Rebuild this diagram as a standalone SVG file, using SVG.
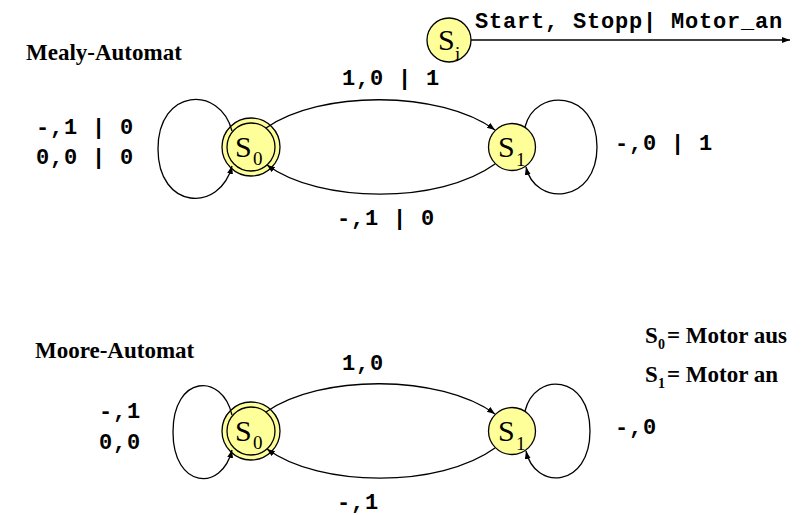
<svg xmlns="http://www.w3.org/2000/svg" width="807" height="515" viewBox="0 0 807 515">
<style>
.st{fill:#FFFF99;stroke:#000;stroke-width:1.3}
.ring{fill:none;stroke:#000;stroke-width:1.3}
.sl{font-family:"Liberation Serif","Times New Roman",serif;fill:#000}
.mono{font-family:"Liberation Mono","Courier New",monospace;font-weight:bold;font-size:22px;letter-spacing:0.8px;fill:#000}
.title{font-family:"Liberation Serif","Times New Roman",serif;font-weight:bold;font-size:23px;fill:#000}
.c{fill:none;stroke:#000;stroke-width:1.3;marker-end:url(#ah)}
</style>
<defs>
<marker id="ah" markerUnits="userSpaceOnUse" markerWidth="9" markerHeight="7" refX="8" refY="3" orient="auto">
<path d="M0,0 L8,3 L0,6 z" fill="#000"/>
</marker>
</defs>
<rect width="807" height="515" fill="#fff"/>

<g id="labels">
<text class="title" x="26" y="60">Mealy-Automat</text>
<text class="title" x="35" y="358">Moore-Automat</text>
<text class="mono" x="475" y="28">Start, Stopp| Motor_an</text>
<text class="mono" x="36" y="134">-,1 | 0</text>
<text class="mono" x="36" y="164">0,0 | 0</text>
<text class="mono" x="342" y="85">1,0 | 1</text>
<text class="mono" x="337" y="225">-,1 | 0</text>
<text class="mono" x="615" y="150">-,0 | 1</text>
<text class="mono" x="99" y="418">-,1</text>
<text class="mono" x="99" y="449">0,0</text>
<text class="mono" x="342" y="370">1,0</text>
<text class="mono" x="337" y="509">-,1</text>
<text class="mono" x="615" y="434">-,0</text>
</g>

<g id="legend">
<text class="title" x="645" y="343">S<tspan x="658" y="349" font-size="14">0</tspan><tspan x="667" y="343">= Motor aus</tspan></text>
<text class="title" x="645" y="382">S<tspan x="658" y="388" font-size="14">1</tspan><tspan x="667" y="382">= Motor an</tspan></text>
</g>

<g id="node-Si">
<circle class="st" cx="449" cy="40" r="22"/>
<text class="sl" x="438" y="50" font-size="30">S</text>
<text class="sl" x="455" y="60" font-size="19">i</text>
</g>

<g id="node-mealy-S0">
<circle class="st" cx="251" cy="147" r="29"/>
<circle class="ring" cx="251" cy="147" r="24"/>
<text class="sl" x="235" y="157" font-size="30">S</text>
<text class="sl" x="253" y="165" font-size="19">0</text>
</g>

<g id="node-mealy-S1">
<circle class="st" cx="512" cy="147" r="23.5"/>
<text class="sl" x="498" y="157" font-size="30">S</text>
<text class="sl" x="516" y="166" font-size="19">1</text>
</g>

<g id="node-moore-S0">
<circle class="st" cx="251" cy="431" r="29"/>
<circle class="ring" cx="251" cy="431" r="24"/>
<text class="sl" x="235" y="441" font-size="30">S</text>
<text class="sl" x="253" y="449" font-size="19">0</text>
</g>

<g id="node-moore-S1">
<circle class="st" cx="512" cy="431" r="23.5"/>
<text class="sl" x="498" y="441" font-size="30">S</text>
<text class="sl" x="516" y="450" font-size="19">1</text>
</g>

<g id="connectors">
<path class="c" d="M471,40 L790,40"/>
<path class="c" d="M266,128 C320,90 440,90 495,130"/>
<path class="c" d="M495,164 C440,204 320,204 267,165"/>
<path class="c" d="M232,131 C220,85 158,88 158,149 C158,210 220,213 232,166"/>
<path class="c" d="M525,127 C535,87 597,90 597,147 C597,204 535,207 526,167"/>
<path class="c" d="M266,412 C320,374 440,374 495,414"/>
<path class="c" d="M495,448 C440,488 320,488 267,449"/>
<path class="c" d="M232,415 C222,372 173,375 173,432 C173,489 222,492 232,450"/>
<path class="c" d="M525,411 C535,371 590,374 590,431 C590,488 535,491 526,451"/>
</g>
</svg>
